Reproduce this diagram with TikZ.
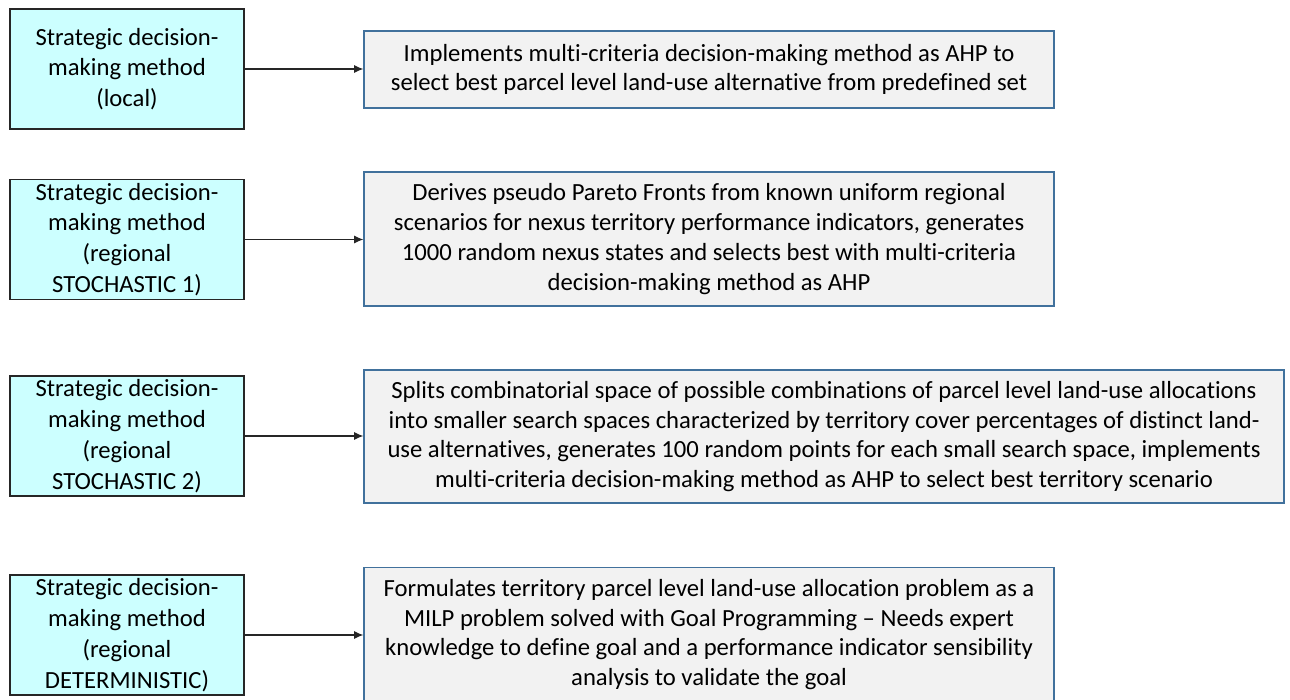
\documentclass[tikz,border=0pt]{standalone}
\usepackage{fontspec}
\setmainfont{Carlito}[Ligatures={TeX,NoCommon}]
\usetikzlibrary{arrows.meta}
\definecolor{leftfill}{HTML}{CCFFFF}
\definecolor{leftdraw}{HTML}{262626}
\definecolor{rightfill}{HTML}{F2F2F2}
\definecolor{rightdraw}{HTML}{41719C}
\begin{document}
\begin{tikzpicture}[x=0.75pt,y=-0.75pt,
  methodbox/.style={draw=leftdraw, fill=leftfill, line width=1.1pt, minimum width=175.5pt, minimum height=90pt, align=center, inner sep=0pt, font=\fontsize{18.5}{23.1}\selectfont},
  descbox/.style={draw=rightdraw, fill=rightfill, line width=0.9pt, align=center, inner sep=0pt, font=\fontsize{18.5}{22.3}\selectfont},
  link/.style={draw=black!85, line width=0.8pt, -{Latex[length=7pt,width=6pt]}}]
\useasboundingbox (0,0) rectangle (1290,700);
\fill[white] (0,0) rectangle (1290,700);

\node[methodbox] (m1) at (127,69) {Strategic decision-\\making method\\(local)};
\node[methodbox] (m2) at (127,239.5) {Strategic decision-\\making method\\(regional\\STOCHASTIC 1)};
\node[methodbox] (m3) at (127,436) {Strategic decision-\\making method\\(regional\\STOCHASTIC 2)};
\node[methodbox] (m4) at (127,635) {Strategic decision-\\making method\\(regional\\DETERMINISTIC)};

\node[descbox, minimum width=517.5pt, minimum height=57.75pt] (d1) at (709,69.5) {Implements multi-criteria decision-making method as AHP to\\select best parcel level land-use alternative from predefined set};
\node[descbox, minimum width=517.5pt, minimum height=100.5pt] (d2) at (709,239) {Derives pseudo Pareto Fronts from known uniform regional\\scenarios for nexus territory performance indicators, generates\\1000 random nexus states and selects best with multi-criteria\\decision-making method as AHP};
\node[descbox, minimum width=690pt, minimum height=99.75pt] (d3) at (824,436.5) {Splits combinatorial space of possible combinations of parcel level land-use allocations\\into smaller search spaces characterized by territory cover percentages of distinct land-\\use alternatives, generates 100 random points for each small search space, implements\\multi-criteria decision-making method as AHP to select best territory scenario};
\node[descbox, minimum width=517.5pt, minimum height=100.5pt] (d4) at (709,634.5) {Formulates territory parcel level land-use allocation problem as a\\MILP problem solved with Goal Programming -- Needs expert\\knowledge to define goal and a performance indicator sensibility\\analysis to validate the goal};

\draw[link] (m1.east) -- (m1.east -| d1.west);
\draw[link] (m2.east) -- (m2.east -| d2.west);
\draw[link] (m3.east) -- (m3.east -| d3.west);
\draw[link] (m4.east) -- (m4.east -| d4.west);
\end{tikzpicture}
\end{document}
